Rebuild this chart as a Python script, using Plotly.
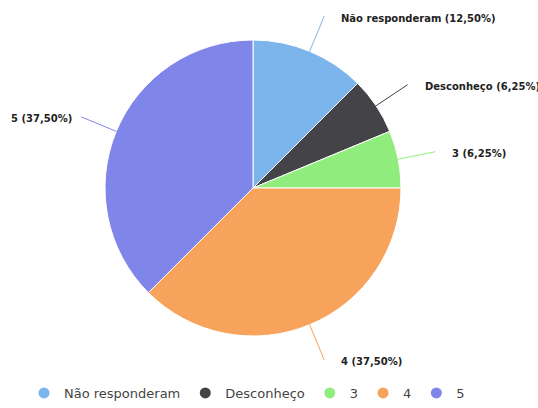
import math
import plotly.graph_objects as go

labels = ["Não responderam", "Desconheço", "3", "4", "5"]
values = [2, 1, 1, 6, 6]
percent_text = ["12,50%", "6,25%", "6,25%", "37,50%", "37,50%"]
colors = ["#7cb5ec", "#434348", "#90ed7d", "#f7a35c", "#8085e9"]

W, H = 538, 408
cx, cy, R = 253, 188, 148
conn = 38        # connector length beyond the pie edge (px)
gap_right = 15   # gap between connector end and label text (px)
gap_left = 7

fig = go.Figure()
fig.add_trace(go.Pie(
    labels=labels, values=values, sort=False, direction="clockwise", rotation=0,
    marker=dict(colors=colors, line=dict(color="white", width=1)),
    textinfo="none", hoverinfo="label+percent", showlegend=False,
    domain=dict(x=[(cx - R) / W, (cx + R) / W], y=[1 - (cy + R) / H, 1 - (cy - R) / H]),
))

# legend entries with circular symbols
for lab, col in zip(labels, colors):
    fig.add_trace(go.Scatter(x=[None], y=[None], mode="markers", name=lab,
                             marker=dict(color=col, size=11, symbol="circle")))

# data labels with connectors, positions derived from the values
total = sum(values)
cum = 0
shapes, annots = [], []
for lab, v, pt, col in zip(labels, values, percent_text, colors):
    mid = (cum + v / 2) / total * 2 * math.pi
    cum += v
    s, c = math.sin(mid), math.cos(mid)
    x0, y0 = cx + R * s, cy - R * c
    x1, y1 = cx + (R + conn) * s, cy - (R + conn) * c
    shapes.append(dict(type="line", xref="paper", yref="paper",
                       x0=x0 / W, y0=1 - y0 / H, x1=x1 / W, y1=1 - y1 / H,
                       line=dict(color=col, width=1)))
    right = s >= 0
    tx = x1 + gap_right if right else x1 - gap_left
    annots.append(dict(x=tx / W, y=1 - (y1 + 2) / H, xref="paper", yref="paper",
                       text=f"<b>{lab} ({pt})</b>", showarrow=False,
                       xanchor="left" if right else "right", yanchor="middle",
                       font=dict(family="DejaVu Sans", size=10, color="#222222")))

fig.update_layout(
    width=W, height=H,
    margin=dict(l=0, r=0, t=0, b=0),
    paper_bgcolor="white", plot_bgcolor="white",
    xaxis=dict(visible=False), yaxis=dict(visible=False),
    shapes=shapes, annotations=annots,
    showlegend=True,
    legend=dict(orientation="h", x=0.5 - 22 / W, xanchor="center", y=1 - 393 / H, yanchor="middle",
                font=dict(family="DejaVu Sans", size=13, color="#444444"),
                itemclick=False, itemdoubleclick=False),
    font=dict(family="DejaVu Sans"),
)

fig.write_html("out.html", config={"displayModeBar": False},
               post_script="document.body.style.margin='0';")
